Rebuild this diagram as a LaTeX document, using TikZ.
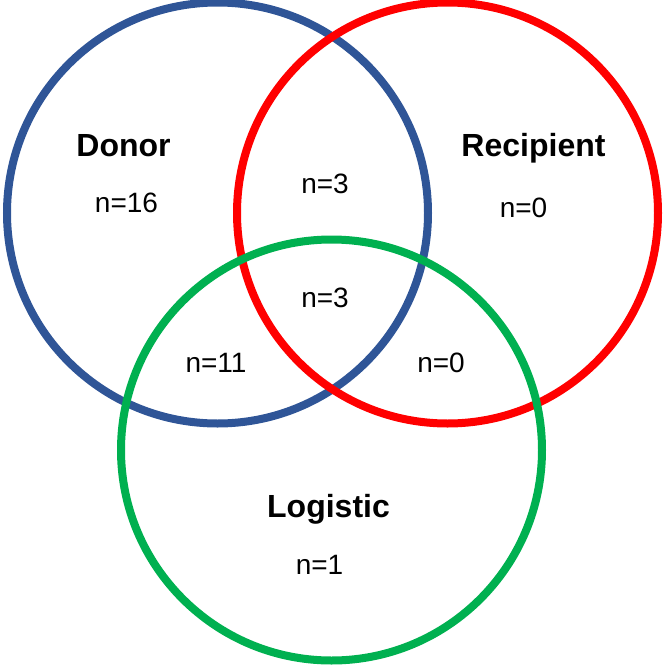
\documentclass[tikz,border=0pt]{standalone}
\usepackage{fontspec}
\setmainfont{Liberation Sans}
\usepackage{xcolor}
\usepackage{tikz}
\usetikzlibrary{
  positioning
}
\definecolor{DonorBlue}{HTML}{2F5597}
\definecolor{RecipRed}{HTML}{FF0000}
\definecolor{LogiGreen}{HTML}{00B050}

\tikzset{
  vset/.style={circle,draw,line width=8pt,minimum size=421pt,inner sep=0pt},
  setname/.style={anchor=base,inner sep=0pt,font=\fontsize{32}{34}\selectfont\bfseries},
  count/.style={anchor=base,inner sep=0pt,font=\fontsize{28}{30}\selectfont}
}

\begin{document}
\begin{tikzpicture}[x=1pt,y=-1pt]
        \useasboundingbox (0,0) rectangle (662,667);
        % the three sets
        \node[vset,draw=DonorBlue] (donorset) at (217.5,213) {};
        \node[vset,draw=RecipRed] (recipset) at (447.5,213) {};
        \node[vset,draw=LogiGreen] (logiset) at (331.5,450) {};
        % names
        \node[setname] (donor) at (123.5,156) {Donor};
        \node[setname] (recipient) at (533.5,156) {Recipient};
        \node[setname] (logistic) at (328.5,517) {Logistic};
        % counts
        \node[count] (ndonor) at (126.5,212) {n=16};
        \node[count] (nrecip) at (523.5,217) {n=0};
        \node[count] (nlogi) at (319.5,574) {n=1};
        \node[count] (ndr) at (325,193) {n=3};
        \node[count] (nall) at (325,307) {n=3};
        \node[count] (ndl) at (216,372) {n=11};
        \node[count] (nrl) at (441,372) {n=0};
      \end{tikzpicture}
\end{document}
